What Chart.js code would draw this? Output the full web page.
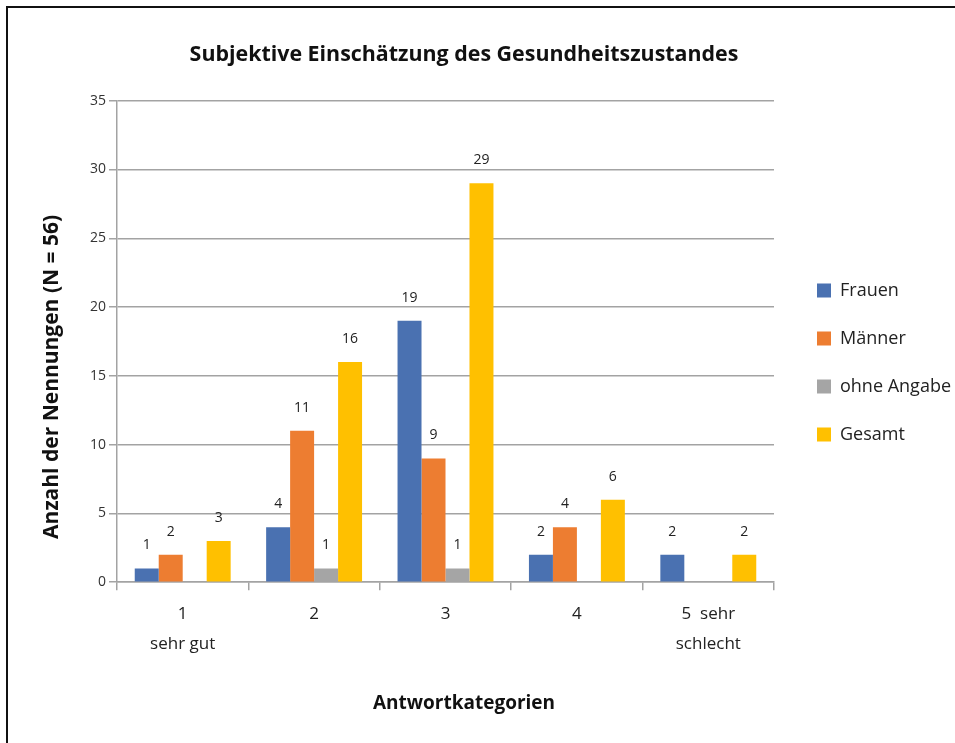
<!DOCTYPE html>
<html>
<head>
<meta charset="utf-8">
<script src="https://cdn.jsdelivr.net/npm/chart.js@4"></script>
<style>
  html, body { margin: 0; padding: 0; background: #fff; }
  #wrap { position: relative; width: 955px; height: 743px; }
  #frame { position: absolute; left: 6px; top: 6px; width: 960px; height: 760px;
           border-left: 2px solid #111; border-top: 2px solid #111; box-sizing: border-box; }
  canvas { position: absolute; left: 0; top: 0; }
</style>
</head>
<body>
<div id="wrap">
  <div id="frame"></div>
  <canvas id="chart" width="955" height="743"></canvas>
</div>
<script>
const categories = [['1', 'sehr gut'], '2', '3', '4', ['5  sehr', 'schlecht']];
const frauen = [1, 4, 19, 2, 2];
const maenner = [2, 11, 9, 4, 0];
const ohneAngabe = [0, 1, 1, 0, 0];
const gesamt = [3, 16, 29, 6, 2];
const yTicks = [0, 5, 10, 15, 20, 25, 30, 35];

const fontFamily = "'Open Sans', 'Noto Sans', sans-serif";
const gridColor = '#a3a3a3';

// value labels above each bar (zeros stay unlabelled)
const barLabels = {
    id: 'barLabels',
    afterDatasetsDraw(chart) {
        const ctx = chart.ctx;
        ctx.save();
        ctx.font = '14px ' + fontFamily;
        ctx.fillStyle = '#222';
        ctx.textAlign = 'center';
        ctx.textBaseline = 'middle';
        chart.data.datasets.forEach((ds, i) => {
            chart.getDatasetMeta(i).data.forEach((bar, j) => {
                if (ds.data[j] > 0) ctx.fillText(ds.data[j], bar.x, bar.y - 23);
            });
        });
        ctx.restore();
    }
};

// legend gets a fixed width, then legend and titles are nudged like the original layout
const layoutTweaks = {
    id: 'layoutTweaks',
    beforeLayout(chart) {
        const legend = chart.legend;
        if (legend && !legend._fixedWidth) {
            const fit = legend.fit;
            legend.fit = function () { fit.call(this); this.width = 181; };
            legend._fixedWidth = true;
        }
    },
    afterLayout(chart) {
        const legend = chart.legend;
        legend.left += 13;
        legend.top += 21;
        legend.bottom += 21;
        chart.boxes.forEach(b => {
            if (b.options && typeof b.options.text === 'string') {
                b.left = 8;
                b.right = 920;
            }
        });
    }
};

const ctx = document.getElementById('chart').getContext('2d');
new Chart(ctx, {
    type: 'bar',
    data: {
        labels: categories,
        datasets: [
            { label: 'Frauen', data: frauen, backgroundColor: '#4A71B1' },
            { label: 'Männer', data: maenner, backgroundColor: '#ED7D31' },
            { label: 'ohne Angabe', data: ohneAngabe, backgroundColor: '#A5A5A5' },
            { label: 'Gesamt', data: gesamt, backgroundColor: '#FFC000' }
        ]
    },
    options: {
        responsive: false,
        animation: false,
        layout: { padding: { left: 8, right: 0, top: 6, bottom: 0 } },
        datasets: {
            bar: { barPercentage: 1, categoryPercentage: 0.73 }
        },
        plugins: {
            title: {
                display: true,
                text: 'Subjektive Einschätzung des Gesundheitszustandes',
                color: '#111',
                font: { family: fontFamily, size: 21.4, weight: 'bold' },
                padding: { top: 36, bottom: 33 }
            },
            subtitle: {
                display: true,
                position: 'bottom',
                text: 'Antwortkategorien',
                color: '#111',
                font: { family: fontFamily, size: 19, weight: 'bold' },
                padding: { top: 10, bottom: 28 }
            },
            legend: {
                position: 'right',
                fullSize: false,
                labels: {
                    boxWidth: 14,
                    boxHeight: 14,
                    padding: 30,
                    color: '#222',
                    font: { family: fontFamily, size: 18 }
                }
            },
            tooltip: { enabled: false }
        },
        scales: {
            x: {
                grid: { display: true, drawOnChartArea: false, color: gridColor, lineWidth: 1.5, tickLength: 8 },
                border: { display: true, color: gridColor, width: 1.5 },
                ticks: {
                    color: '#222',
                    padding: 8,
                    font: { family: fontFamily, size: 17, lineHeight: 1.82 }
                },
                afterFit(scale) { scale.height = 100; }
            },
            y: {
                min: 0,
                max: 35,
                afterBuildTicks(scale) { scale.ticks = yTicks.map(v => ({ value: v })); },
                grid: { color: gridColor, lineWidth: 1.5, tickLength: 8 },
                border: { display: true, color: gridColor, width: 1.5 },
                ticks: {
                    color: '#333',
                    padding: 3,
                    font: { family: fontFamily, size: 14 }
                },
                title: {
                    display: true,
                    // trailing blanks push the centred title down to where the original sits
                    text: 'Anzahl der Nennungen (N = 56)             ',
                    color: '#111',
                    font: { family: fontFamily, size: 21, weight: 'bold' },
                    padding: { top: 31, bottom: 0 }
                },
                afterFit(scale) { scale.width = 109; }
            }
        }
    },
    plugins: [barLabels, layoutTweaks]
});
</script>
</body>
</html>
